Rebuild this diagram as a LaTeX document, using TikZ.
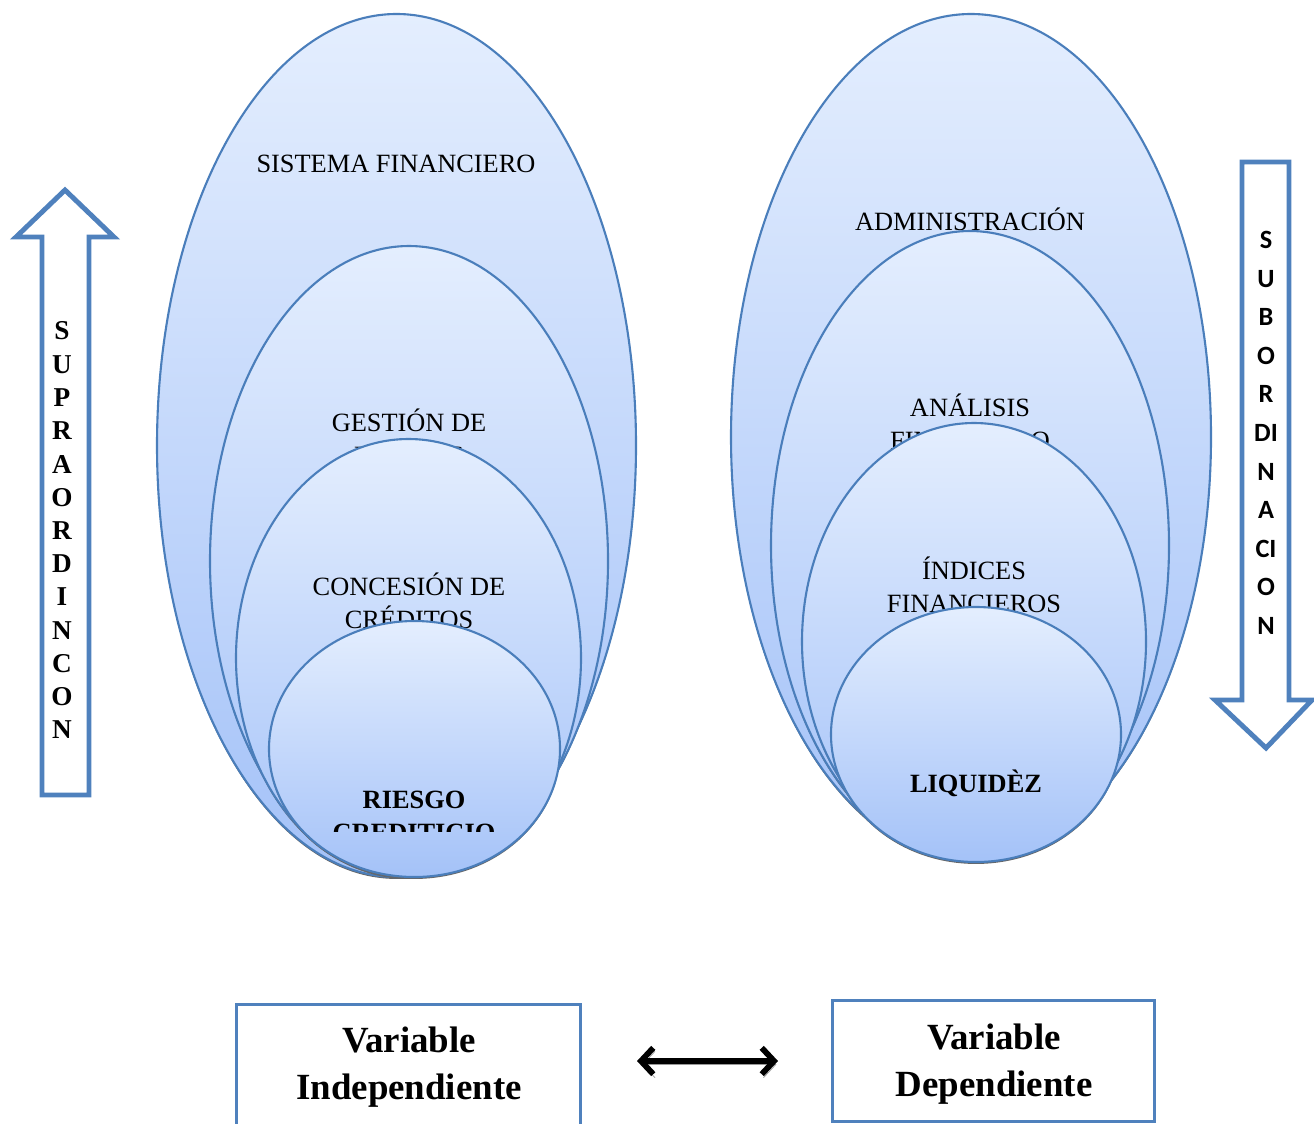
\documentclass[tikz,border=0pt]{standalone}
\usepackage{fontspec}
\setmainfont{Liberation Serif}
\newfontfamily\carlito{Carlito}
\usetikzlibrary{arrows.meta}
\definecolor{eblue}{HTML}{4A7EBB}
\definecolor{etop}{HTML}{E4EEFE}
\definecolor{ebot}{HTML}{A4C2F8}
\definecolor{bblue}{HTML}{4F81BD}
\tikzset{
  ell/.style={draw=eblue, line width=1.2pt, top color=etop, bottom color=ebot,
    preaction={fill=black!60, transform canvas={yshift=-1.1pt}}},
  etext/.style={anchor=base, inner sep=0pt, font=\fontsize{15}{18}\selectfont},
  btext/.style={etext, font=\fontsize{15}{18}\selectfont\bfseries},
  blockarrow/.style={draw=bblue, line width=2.8pt, fill=white},
  lletter/.style={inner sep=0pt, font=\fontsize{15.5}{18}\selectfont\bfseries},
  rletter/.style={inner sep=0pt, font=\fontsize{15}{18}\selectfont\carlito\bfseries},
  varbox/.style={draw=bblue, line width=1.7pt, inner sep=0pt},
  vartext/.style={align=center, inner sep=0pt,
    font=\fontsize{21}{26.6}\selectfont\bfseries},
  dblarrow/.style={line width=3.3pt,
    {Straight Barb[length=7pt,width=15pt]}-{Straight Barb[length=7pt,width=15pt]},
    preaction={draw=black!40, transform canvas={shift={(1pt,-2pt)}}}}
}
\begin{document}
\begin{tikzpicture}[x=0.02cm,y=-0.02cm]
  \useasboundingbox (0,0) rectangle (1314,1123);

  % left ellipses
  \draw[ell] (396.5,445.5) ellipse (239.5 and 431.5);
  \node[etext] (sisfin) at (396,172) {SISTEMA FINANCIERO};
  \draw[ell] (409,561) ellipse (199 and 315);
  \node[etext] (gest1) at (409,431) {GESTIÓN DE};
  \node[etext] (gest2) at (409,464) {RIESGOS};
  \draw[ell] (408.5,658) ellipse (172.5 and 219);
  \node[etext] (conc1) at (409,595) {CONCESIÓN DE};
  \node[etext] (conc2) at (409,628) {CRÉDITOS};
  \draw[ell] (414.5,749) ellipse (145.5 and 128);
  \begin{scope}
    \clip (260,600) rectangle (570,831);
    \node[btext] (ries1) at (414,808) {RIESGO};
    \node[btext] (ries2) at (414,841) {CREDITICIO};
  \end{scope}

  % right ellipses
  \draw[ell] (971,437) ellipse (240 and 423);
  \node[etext] (admin) at (970,230) {ADMINISTRACIÓN};
  \draw[ell] (970,545.5) ellipse (199 and 314.5);
  \node[etext] (anal1) at (970,416) {ANÁLISIS};
  \node[etext] (anal2) at (970,449) {FINANCIERO};
  \draw[ell] (974,641.5) ellipse (172 and 218.5);
  \node[etext] (indi1) at (974,579) {ÍNDICES};
  \node[etext] (indi2) at (974,612) {FINANCIEROS};
  \draw[ell] (976,734.5) ellipse (145 and 127.5);
  \node[btext] (liqui) at (976,792) {LIQUIDÈZ};

  % block arrows
  \draw[blockarrow] (42,795) -- (42,237) -- (16,237) -- (65,190) -- (114,237)
    -- (89,237) -- (89,795) -- cycle;
  \foreach \l [count=\i from 0] in {S,U,P,R,A,O,R,D,I,N,C,O,N}
    \node[lletter] (sup\i) at (62,{331+33.25*\i}) {\l};
  \draw[blockarrow] (1242,162) -- (1242,700) -- (1215,700) -- (1266,748) -- (1312,700)
    -- (1289,700) -- (1289,162) -- cycle;
  \foreach \l [count=\i from 0] in {S,U,B,O,R,DI,N,A,CI,O,N}
    \node[rletter] (sub\i) at (1266,{240+38.6*\i}) {\l};

  % variables
  \node[varbox, minimum width=6.9cm, minimum height=2.44cm] (indep) at (408.5,1065) {};
  \node[vartext] (indeptxt) at (409,1067) {Variable\\Independiente};
  \node[varbox, minimum width=6.46cm, minimum height=2.42cm] (dep) at (993.5,1060.5) {};
  \node[vartext] (deptxt) at (994,1064) {Variable\\Dependiente};
  \coordinate (arl) at (637,1061);
  \coordinate (arr) at (778,1061);
  \draw[dblarrow] (arl) -- (arr);
\end{tikzpicture}
\end{document}
